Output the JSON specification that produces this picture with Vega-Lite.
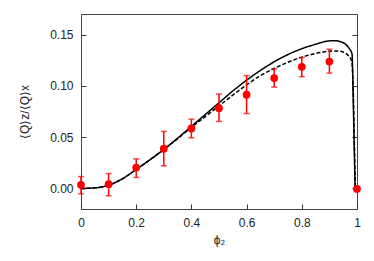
{
  "$schema": "https://vega.github.io/schema/vega-lite/v6.json",
  "autosize": "none",
  "width": 276,
  "height": 195,
  "padding": {"left": 81, "top": 14, "right": 17, "bottom": 52},
  "background": "white",
  "config": {
    "view": {"stroke": "#444", "strokeWidth": 1},
    "font": "Liberation Sans",
    "axis": {"grid": false, "domainColor": "#333", "tickColor": "#333", "labelColor": "#222", "titleColor": "#222", "labelFontSize": 12, "titleFontSize": 12, "titleFontWeight": "normal", "labelFont": "Liberation Sans", "titleFont": "Liberation Sans"}
  },
  "datasets": {
    "points": [
      {"phi": 0.0, "q": 0.0036, "lo": -0.0052, "hi": 0.0116},
      {"phi": 0.1, "q": 0.0042, "lo": -0.0071, "hi": 0.0145},
      {"phi": 0.2, "q": 0.0204, "lo": 0.0107, "hi": 0.0288},
      {"phi": 0.3, "q": 0.0388, "lo": 0.022, "hi": 0.0556},
      {"phi": 0.4, "q": 0.0585, "lo": 0.0494, "hi": 0.0675},
      {"phi": 0.5, "q": 0.0782, "lo": 0.0653, "hi": 0.092},
      {"phi": 0.6, "q": 0.0914, "lo": 0.073, "hi": 0.110},
      {"phi": 0.7, "q": 0.1076, "lo": 0.0988, "hi": 0.1166},
      {"phi": 0.8, "q": 0.1186, "lo": 0.1089, "hi": 0.1276},
      {"phi": 0.9, "q": 0.1237, "lo": 0.1124, "hi": 0.1357},
      {"phi": 1.0, "q": -0.0004, "lo": -0.0004, "hi": -0.0004}
    ],
    "curves": [
      {"phi": 0.0, "q": 0.0, "s": "solid"},
      {"phi": 0.05, "q": 0.0006, "s": "solid"},
      {"phi": 0.1, "q": 0.0032, "s": "solid"},
      {"phi": 0.15, "q": 0.0095, "s": "solid"},
      {"phi": 0.2, "q": 0.0185, "s": "solid"},
      {"phi": 0.25, "q": 0.028, "s": "solid"},
      {"phi": 0.3, "q": 0.038, "s": "solid"},
      {"phi": 0.35, "q": 0.049, "s": "solid"},
      {"phi": 0.4, "q": 0.0605, "s": "solid"},
      {"phi": 0.45, "q": 0.072, "s": "solid"},
      {"phi": 0.5, "q": 0.0835, "s": "solid"},
      {"phi": 0.55, "q": 0.095, "s": "solid"},
      {"phi": 0.6, "q": 0.1055, "s": "solid"},
      {"phi": 0.65, "q": 0.115, "s": "solid"},
      {"phi": 0.7, "q": 0.1235, "s": "solid"},
      {"phi": 0.75, "q": 0.1305, "s": "solid"},
      {"phi": 0.8, "q": 0.1362, "s": "solid"},
      {"phi": 0.85, "q": 0.1405, "s": "solid"},
      {"phi": 0.89, "q": 0.1435, "s": "solid"},
      {"phi": 0.92, "q": 0.144, "s": "solid"},
      {"phi": 0.95, "q": 0.142, "s": "solid"},
      {"phi": 0.97, "q": 0.137, "s": "solid"},
      {"phi": 0.982, "q": 0.131, "s": "solid"},
      {"phi": 0.986, "q": 0.09, "s": "solid"},
      {"phi": 0.99, "q": 0.04, "s": "solid"},
      {"phi": 0.993, "q": 0.0, "s": "solid"},
      {"phi": 0.0, "q": 0.0, "s": "dashed"},
      {"phi": 0.05, "q": 0.0006, "s": "dashed"},
      {"phi": 0.1, "q": 0.0032, "s": "dashed"},
      {"phi": 0.15, "q": 0.0095, "s": "dashed"},
      {"phi": 0.2, "q": 0.0185, "s": "dashed"},
      {"phi": 0.25, "q": 0.028, "s": "dashed"},
      {"phi": 0.3, "q": 0.038, "s": "dashed"},
      {"phi": 0.35, "q": 0.0485, "s": "dashed"},
      {"phi": 0.4, "q": 0.0595, "s": "dashed"},
      {"phi": 0.45, "q": 0.0700, "s": "dashed"},
      {"phi": 0.5, "q": 0.0805, "s": "dashed"},
      {"phi": 0.55, "q": 0.0910, "s": "dashed"},
      {"phi": 0.6, "q": 0.1009, "s": "dashed"},
      {"phi": 0.65, "q": 0.1100, "s": "dashed"},
      {"phi": 0.7, "q": 0.1170, "s": "dashed"},
      {"phi": 0.75, "q": 0.1230, "s": "dashed"},
      {"phi": 0.8, "q": 0.1280, "s": "dashed"},
      {"phi": 0.85, "q": 0.1315, "s": "dashed"},
      {"phi": 0.9, "q": 0.1337, "s": "dashed"},
      {"phi": 0.93, "q": 0.1340, "s": "dashed"},
      {"phi": 0.95, "q": 0.1330, "s": "dashed"},
      {"phi": 0.97, "q": 0.1290, "s": "dashed"},
      {"phi": 0.981, "q": 0.1240, "s": "dashed"},
      {"phi": 0.986, "q": 0.100, "s": "dashed"},
      {"phi": 0.99, "q": 0.05, "s": "dashed"},
      {"phi": 0.994, "q": 0.0, "s": "dashed"}
    ]
  },
  "layer": [
    {
      "data": {"name": "curves"},
      "mark": {"type": "line", "color": "black", "strokeWidth": 1.5, "interpolate": "monotone"},
      "encoding": {
        "x": {"field": "phi", "type": "quantitative", "scale": {"domain": [0, 1], "nice": false},
          "axis": {"values": [0, 0.2, 0.4, 0.6, 0.8, 1], "format": "~g", "offset": -5, "tickSize": 5, "domain": false, "labelPadding": 8, "title": "ϕ₂", "titlePadding": 6, "labelFlush": false}},
        "y": {"field": "q", "type": "quantitative", "scale": {"domain": [-0.02, 0.17], "nice": false, "zero": false},
          "axis": {"values": [0, 0.05, 0.1, 0.15], "format": ".2f", "offset": -5, "tickSize": 5, "domain": false, "labelPadding": 8, "title": "⟨Q⟩z/⟨Q⟩x", "titlePadding": 18}},
        "strokeDash": {"field": "s", "type": "nominal", "scale": {"domain": ["solid", "dashed"], "range": [[1, 0], [4, 2]]}, "legend": null},
        "detail": {"field": "s"}
      }
    },
    {
      "data": {"name": "points"},
      "mark": {"type": "errorbar", "color": "#ff0000", "thickness": 1.5, "ticks": {"size": 6, "thickness": 1.5, "color": "#ff0000"}},
      "encoding": {
        "x": {"field": "phi", "type": "quantitative"},
        "y": {"field": "lo", "type": "quantitative", "axis": null},
        "y2": {"field": "hi"}
      }
    },
    {
      "data": {"name": "points"},
      "mark": {"type": "circle", "color": "#ff0000", "opacity": 1, "size": 60},
      "encoding": {
        "x": {"field": "phi", "type": "quantitative"},
        "y": {"field": "q", "type": "quantitative", "axis": {"orient": "right", "values": [0, 0.05, 0.1, 0.15], "offset": -5, "tickSize": 5, "labels": false, "title": null, "domain": false}}
      }
    }
  ],
  "resolve": {"axis": {"y": "independent"}}
}
